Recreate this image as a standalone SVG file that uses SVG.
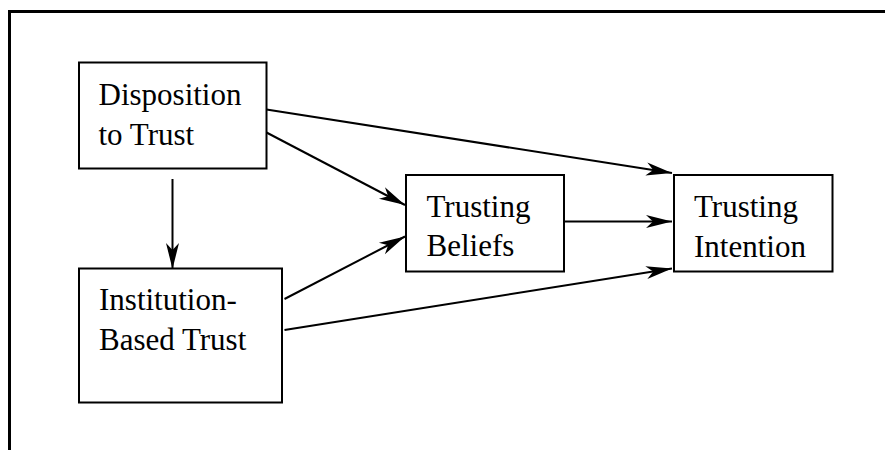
<svg xmlns="http://www.w3.org/2000/svg" width="885" height="450" viewBox="0 0 885 450">
  <style>
    .box { fill: #fff; stroke: #000; stroke-width: 2; }
    .lbl { font-family: "Liberation Serif", "Times New Roman", serif; font-size: 31px; fill: #000; }
    .edge { fill: none; stroke: #000; stroke-width: 2; marker-end: url(#arrow); }
    .frame { fill: none; stroke: #000; stroke-width: 3; }
  </style>
  <defs>
    <marker id="arrow" markerUnits="userSpaceOnUse" markerWidth="30" markerHeight="16" refX="27" refY="7" orient="auto" overflow="visible">
      <path d="M27,7 L1,0.5 L8,7 L1,13.5 Z" fill="#000"/>
    </marker>
  </defs>
  <rect width="885" height="450" fill="#fff"/>

  <!-- outer frame: top and left edges -->
  <path class="frame" d="M9.5,450 L9.5,11.5 L885,11.5"/>

  <g id="connectors">
    <line class="edge" x1="172.5" y1="179" x2="172.5" y2="269"/>
    <line class="edge" x1="266.5" y1="132.5" x2="405" y2="205"/>
    <line class="edge" x1="266.5" y1="109.5" x2="672" y2="173"/>
    <line class="edge" x1="284.5" y1="299" x2="405" y2="236.5"/>
    <line class="edge" x1="284.5" y1="330" x2="672" y2="268.5"/>
    <line class="edge" x1="564" y1="221.5" x2="672" y2="221.5"/>
  </g>

  <g id="disposition">
    <rect class="box" x="79" y="62.5" width="187.5" height="106"/>
    <text class="lbl" x="98.5" y="105">Disposition</text>
    <text class="lbl" x="98.5" y="145">to Trust</text>
  </g>

  <g id="institution">
    <rect class="box" x="79" y="268.5" width="203" height="134"/>
    <text class="lbl" x="99" y="310">Institution-</text>
    <text class="lbl" x="99" y="350">Based Trust</text>
  </g>

  <g id="beliefs">
    <rect class="box" x="406" y="175" width="158" height="96.5"/>
    <text class="lbl" x="426.5" y="217">Trusting</text>
    <text class="lbl" x="426.5" y="256">Beliefs</text>
  </g>

  <g id="intention">
    <rect class="box" x="674" y="175" width="158.5" height="96.5"/>
    <text class="lbl" x="694" y="217">Trusting</text>
    <text class="lbl" x="694" y="256.5">Intention</text>
  </g>
</svg>
